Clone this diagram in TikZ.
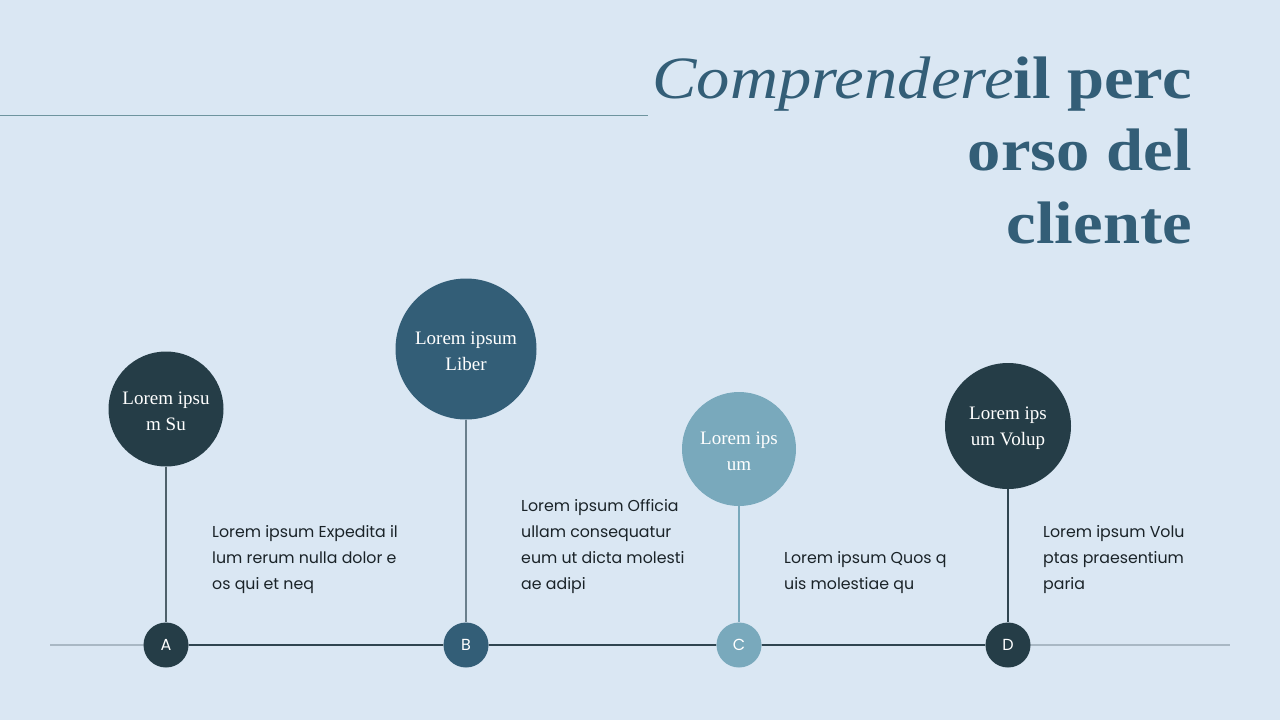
\documentclass[tikz,border=0pt]{standalone}
\usepackage{fontspec}
\setmainfont{Liberation Serif}
\newfontfamily\titlefont[FakeStretch=1.11]{Liberation Serif}
\newfontfamily\popp{Poppins}
\definecolor{bg}{HTML}{DAE7F3}
\definecolor{ink}{HTML}{335E77}
\definecolor{darkc}{HTML}{253D47}
\definecolor{midc}{HTML}{335E77}
\definecolor{lightc}{HTML}{79A9BC}
\definecolor{rule}{HTML}{6E949E}
\definecolor{grayline}{HTML}{A9B8C4}
\definecolor{mainline}{HTML}{2F4550}
\definecolor{stemB}{HTML}{6A7F8C}
\definecolor{body}{HTML}{1A2328}
\begin{document}
\begin{tikzpicture}[x=1pt,y=-1pt,
  bigc/.style={circle,inner sep=0pt},
  bigtxt/.style={inner sep=0pt,text=white,align=center,font=\fontsize{19}{26}\selectfont},
  smallc/.style={circle,minimum size=45pt,inner sep=0pt,text=white,font=\popp\fontsize{16}{18}\selectfont},
  bodytxt/.style={anchor=base west,inner sep=0pt,text=body,font=\popp\fontsize{15.8}{26}\selectfont},
  titletxt/.style={anchor=base east,inner sep=0pt,text=ink,font=\titlefont\fontsize{60}{72}\selectfont}]
\useasboundingbox (0,0) rectangle (1280,720);
\fill[bg] (0,0) rectangle (1280,720);
% top rule
\coordinate (r1) at (0,115);
\coordinate (r2) at (648,115);
\draw[rule,line width=1pt] (r1) -- (r2);
% title
\node[titletxt] (t1) at (1192,98) {{\itshape Comprendere}{\bfseries il perc}};
\node[titletxt] (t2) at (1192,170) {\bfseries orso del};
\node[titletxt] (t3) at (1192,243) {\bfseries cliente};
% timeline
\coordinate (l1) at (50,645);
\coordinate (l2) at (1230,645);
\draw[grayline,line width=1.5pt] (l1) -- (l2);
% small circles
\node[smallc,fill=darkc] (sA) at (166,645) {A};
\node[smallc,fill=midc] (sB) at (466,645) {B};
\node[smallc,fill=lightc] (sC) at (739,645) {C};
\node[smallc,fill=darkc] (sD) at (1008,645) {D};
\draw[mainline,line width=2pt] (sA) -- (sB);
\draw[mainline,line width=2pt] (sB) -- (sC);
\draw[mainline,line width=2pt] (sC) -- (sD);
% big circles
\node[bigc,fill=darkc,minimum size=115pt] (cA) at (166,409) {};
\node[bigc,fill=midc,minimum size=141pt] (cB) at (466,349) {};
\node[bigc,fill=lightc,minimum size=114pt] (cC) at (739,449) {};
\node[bigc,fill=darkc,minimum size=126pt] (cD) at (1008,426) {};
\node[bigtxt] (xA) at (166,411) {Lorem ipsu\\m Su};
\node[bigtxt] (xB) at (466,351) {Lorem ipsum\\Liber};
\node[bigtxt] (xC) at (739,451) {Lorem ips\\um};
\node[bigtxt] (xD) at (1008,428) {Lorem ips\\um Volup};
% stems
\draw[mainline!85,line width=2pt] (cA) -- (sA);
\draw[stemB,line width=2pt] (cB) -- (sB);
\draw[lightc,line width=2pt] (cC) -- (sC);
\draw[mainline,line width=2pt] (cD) -- (sD);
% body texts
\node[bodytxt] (bA) at (212,537) {\parbox[t]{220pt}{\raggedright Lorem ipsum Expedita il\\lum rerum nulla dolor e\\os qui et neq}};
\node[bodytxt] (bB) at (521,511) {\parbox[t]{220pt}{\raggedright Lorem ipsum Officia\\ullam consequatur\\eum ut dicta molesti\\ae adipi}};
\node[bodytxt] (bC) at (784,563) {\parbox[t]{220pt}{\raggedright Lorem ipsum Quos q\\uis molestiae qu}};
\node[bodytxt] (bD) at (1043,537) {\parbox[t]{220pt}{\raggedright Lorem ipsum Volu\\ptas praesentium\\paria}};
\end{tikzpicture}
\end{document}
